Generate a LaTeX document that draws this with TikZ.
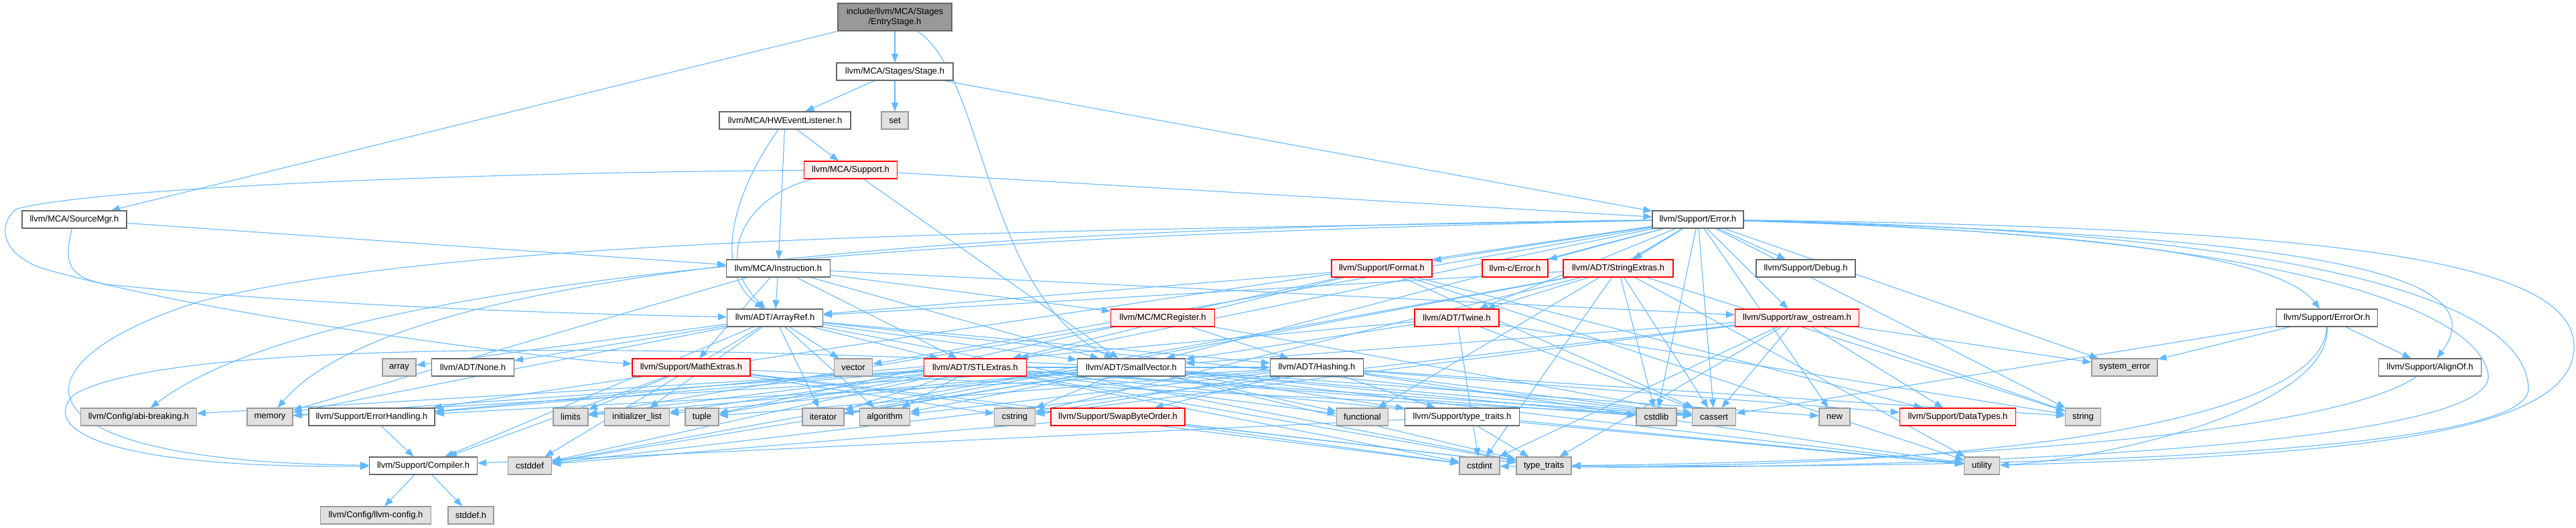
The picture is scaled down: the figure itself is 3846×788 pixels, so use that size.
\documentclass[tikz,border=0pt]{standalone}
\usepackage{fontspec}
\setmainfont{Liberation Sans}
\usetikzlibrary{arrows.meta,backgrounds}
\definecolor{edgec}{HTML}{63B8FF}
\definecolor{sysfill}{HTML}{E0E0E0}
\definecolor{sysdraw}{HTML}{999999}
\definecolor{redfill}{HTML}{FFF0F0}
\definecolor{rootfill}{HTML}{999999}
\definecolor{nodedraw}{HTML}{666666}
\begin{document}
\begin{tikzpicture}[x=1pt,y=-1pt,
  base/.style={rectangle, line width=1.2pt, minimum height=26pt, inner sep=2pt, font=\fontsize{13}{15}\selectfont},
  hdr/.style={base, draw=nodedraw, fill=white},
  sys/.style={base, draw=sysdraw, fill=sysfill},
  trunc/.style={base, draw=red, fill=redfill},
  root/.style={base, draw=nodedraw, fill=rootfill, align=center, minimum height=41pt},
  edge/.style={draw=edgec, line width=1.1pt, -{Triangle[length=13pt,width=10pt]}}]
\useasboundingbox (0,0) rectangle (3846,788);
% row 0-3
\node[root, minimum width=170] (entry) at (1336,25.5) {include/llvm/MCA/Stages\\/EntryStage.h};
\node[hdr, minimum width=174] (stage) at (1336,107) {llvm/MCA/Stages/Stage.h};
\node[sys, minimum width=40] (set) at (1336,180) {set};
\node[hdr, minimum width=196] (hwel) at (1172,180) {llvm/MCA/HWEventListener.h};
\node[trunc, minimum width=139] (mcasup) at (1270,254) {llvm/MCA/Support.h};
% row 4
\node[hdr, minimum width=156] (srcmgr) at (111,328) {llvm/MCA/SourceMgr.h};
\node[hdr, minimum width=136] (err) at (2535,328) {llvm/Support/Error.h};
% row 5
\node[hdr, minimum width=155] (instr) at (1162,401) {llvm/MCA/Instruction.h};
\node[trunc, minimum width=150] (format) at (2063,401) {llvm/Support/Format.h};
\node[trunc, minimum width=98] (cerr) at (2262,401) {llvm-c/Error.h};
\node[trunc, minimum width=164] (strext) at (2416,401) {llvm/ADT/StringExtras.h};
\node[hdr, minimum width=148] (debug) at (2696,401) {llvm/Support/Debug.h};
% row 6
\node[hdr, minimum width=143] (arrayref) at (1157,475) {llvm/ADT/ArrayRef.h};
\node[trunc, minimum width=155] (mcreg) at (1736,475) {llvm/MC/MCRegister.h};
\node[trunc, minimum width=126] (twine) at (2175,475) {llvm/ADT/Twine.h};
\node[trunc, minimum width=185] (rawos) at (2683,475) {llvm/Support/raw\_ostream.h};
\node[hdr, minimum width=151] (erroror) at (3474,475) {llvm/Support/ErrorOr.h};
% row 7
\node[sys, minimum width=50] (array) at (596,549) {array};
\node[hdr, minimum width=123] (none) at (706,549) {llvm/ADT/None.h};
\node[trunc, minimum width=176] (mathext) at (1032,549) {llvm/Support/MathExtras.h};
\node[sys, minimum width=57] (vector) at (1274,549) {vector};
\node[trunc, minimum width=153] (stlext) at (1456,549) {llvm/ADT/STLExtras.h};
\node[hdr, minimum width=161] (smallvec) at (1689,549) {llvm/ADT/SmallVector.h};
\node[hdr, minimum width=139] (hashing) at (1966,549) {llvm/ADT/Hashing.h};
\node[sys, minimum width=98] (syserr) at (3172,549) {system\_error};
\node[hdr, minimum width=153] (alignof) at (3628,549) {llvm/Support/AlignOf.h};
% row 8
\node[sys, minimum width=173] (abi) at (207,623) {llvm/Config/abi-breaking.h};
\node[sys, minimum width=68] (memory) at (403,623) {memory};
\node[hdr, minimum width=188] (errhand) at (555,623) {llvm/Support/ErrorHandling.h};
\node[sys, minimum width=52] (limits) at (852,623) {limits};
\node[sys, minimum width=97] (initlist) at (951,623) {initializer\_list};
\node[sys, minimum width=50] (tuple) at (1048,623) {tuple};
\node[sys, minimum width=62] (iterator) at (1229,623) {iterator};
\node[sys, minimum width=75] (algorithm) at (1321,623) {algorithm};
\node[sys, minimum width=61] (cstring) at (1515,623) {cstring};
\node[trunc, minimum width=200] (swapbyte) at (1669,623) {llvm/Support/SwapByteOrder.h};
\node[sys, minimum width=77] (functional) at (2034,623) {functional};
\node[hdr, minimum width=171] (typetrh) at (2183,623) {llvm/Support/type\_traits.h};
\node[sys, minimum width=60] (cstdlib) at (2473,623) {cstdlib};
\node[sys, minimum width=65] (cassert) at (2559,623) {cassert};
\node[sys, minimum width=46] (new) at (2739,623) {new};
\node[trunc, minimum width=173] (datatypes) at (2923,623) {llvm/Support/DataTypes.h};
\node[sys, minimum width=53] (string) at (3110,623) {string};
% row 9
\node[hdr, minimum width=161] (compiler) at (632,696) {llvm/Support/Compiler.h};
\node[sys, minimum width=65] (cstddef) at (791,696) {cstddef};
\node[sys, minimum width=60] (cstdint) at (2209,696) {cstdint};
\node[sys, minimum width=82] (typetraits) at (2305,696) {type\_traits};
\node[sys, minimum width=53] (utility) at (2959,696) {utility};
% row 10
\node[sys, minimum width=165] (llvmconfig) at (561,770) {llvm/Config/llvm-config.h};
\node[sys, minimum width=68] (stddef) at (703,770) {stddef.h};

\begin{scope}[on background layer]
\foreach \s/\t in {entry/stage, entry/srcmgr,
  stage/hwel, stage/set, stage/err,
  hwel/mcasup, hwel/instr,
  mcasup/smallvec, mcasup/err,
  srcmgr/instr,
  instr/arrayref, instr/stlext, instr/smallvec, instr/mcreg, instr/mathext, instr/rawos, instr/memory,
  err/cerr, err/twine, err/debug, err/errhand,
  err/format, err/rawos, err/cassert, err/cstdlib, err/functional, err/new,
  err/string, err/syserr, err/vector, err/stlext, err/smallvec, err/strext,
  format/arrayref, format/stlext, format/datatypes, format/cassert, format/tuple, format/utility,
  strext/arrayref, strext/twine, strext/cassert, strext/cstddef, strext/cstdint, strext/cstdlib,
  strext/cstring, strext/iterator, strext/string, strext/utility,
  twine/smallvec, twine/errhand, twine/cassert, twine/cstdint, twine/string,
  rawos/smallvec, rawos/datatypes, rawos/cassert, rawos/cstddef, rawos/cstdint, rawos/cstring,
  rawos/string, rawos/syserr, rawos/typetraits,
  erroror/alignof, erroror/cassert, erroror/syserr,
  arrayref/hashing, arrayref/none, arrayref/stlext, arrayref/smallvec, arrayref/compiler,
  arrayref/algorithm, arrayref/array, arrayref/cassert, arrayref/cstddef, arrayref/initlist,
  arrayref/iterator, arrayref/memory, arrayref/typetraits, arrayref/vector,
  smallvec/typetrh, smallvec/algorithm, smallvec/cassert, smallvec/cstddef,
  smallvec/cstdlib, smallvec/cstring, smallvec/functional, smallvec/initlist, smallvec/iterator,
  smallvec/limits, smallvec/memory, smallvec/new, smallvec/typetraits, smallvec/utility,
  stlext/hashing, stlext/abi, stlext/errhand, stlext/algorithm, stlext/cassert, stlext/cstddef,
  stlext/cstdint, stlext/cstdlib, stlext/functional, stlext/initlist, stlext/iterator, stlext/limits,
  stlext/memory, stlext/tuple, stlext/typetraits, stlext/utility,
  hashing/datatypes, hashing/errhand, hashing/swapbyte, hashing/typetrh, hashing/algorithm,
  hashing/cassert, hashing/cstring, hashing/string, hashing/tuple, hashing/utility,
  mathext/compiler, mathext/cassert, mathext/cstdint, mathext/cstring, mathext/limits, mathext/typetraits,
  mcreg/hashing, mcreg/cassert, mcreg/limits,
  errhand/compiler, compiler/llvmconfig, compiler/stddef,
  typetrh/compiler, typetrh/typetraits, typetrh/utility,
  swapbyte/cstddef, swapbyte/cstdint, swapbyte/typetraits}
  \draw[edge] (\s) -- (\t);
% curved connectors
\draw[edge] (entry) .. controls (1470,110) and (1470,440) .. (smallvec);
\draw[edge] (mcasup) .. controls (700,258) and (150,280) .. (25,312) .. controls (0,330) and (-5,375) .. (60,400) .. controls (300,470) and (800,535) .. (mathext);
\draw[edge] (srcmgr) .. controls (95,390) and (100,415) .. (160,425) .. controls (500,460) and (900,470) .. (arrayref);
\draw[edge] (mcasup) .. controls (1120,290) and (1060,380) .. (arrayref);
\draw[edge] (hwel) .. controls (1100,280) and (1060,400) .. (arrayref);
\draw[edge] (err) .. controls (1600,345) and (700,350) .. (300,450) .. controls (10,540) and (0,690) .. (compiler);
\draw[edge] (smallvec) .. controls (1000,515) and (250,505) .. (110,590) .. controls (60,640) and (150,700) .. (compiler);
\draw[edge] (err) .. controls (1500,350) and (500,400) .. (abi);
\draw[edge] (err) .. controls (1500,340) and (600,390) .. (memory);
\draw[edge] (err) .. controls (3100,345) and (3400,380) .. (erroror);
\draw[edge] (err) .. controls (3400,350) and (3740,400) .. (alignof);
\draw[edge] (err) .. controls (3500,340) and (3846,390) .. (3843,520) .. controls (3840,650) and (3500,680) .. (utility);
\draw[edge] (err) .. controls (3450,345) and (3770,450) .. (3775,580) .. controls (3780,680) and (3000,700) .. (typetraits);
\draw[edge] (err) .. controls (3400,350) and (3700,460) .. (3715,560) .. controls (3730,680) and (2700,705) .. (cstdint);
\draw[edge] (alignof) .. controls (3480,650) and (2900,690) .. (typetraits);
\draw[edge] (erroror) .. controls (3480,620) and (3100,690) .. (utility);
\draw[edge] (erroror) .. controls (3470,640) and (2900,700) .. (typetraits);
\end{scope}
\end{tikzpicture}
\end{document}
